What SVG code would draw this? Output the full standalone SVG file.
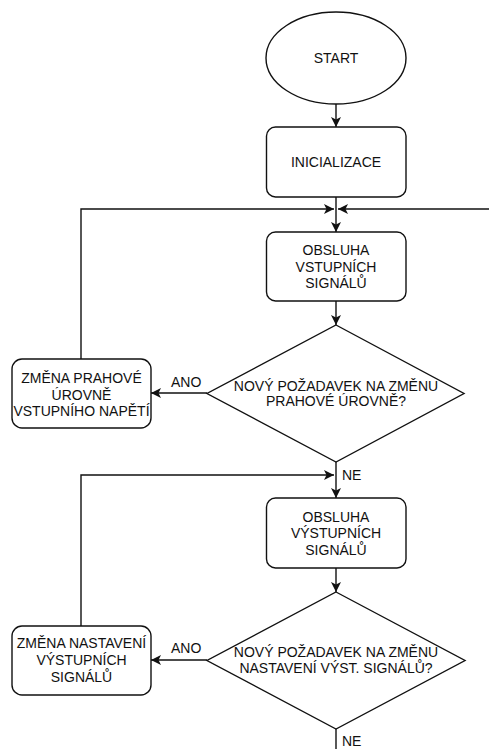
<svg xmlns="http://www.w3.org/2000/svg" width="489" height="749" viewBox="0 0 489 749">
<defs>
<style>
.s{fill:#fff;stroke:#111;stroke-width:1.4}
.c{fill:none;stroke:#111;stroke-width:1.4}
text{font-family:"Liberation Sans",Arial,sans-serif;font-size:14px;fill:#111;text-anchor:middle}
.l{text-anchor:start}
</style>
<marker id="a" markerUnits="userSpaceOnUse" markerWidth="10" markerHeight="10" refX="8" refY="4" orient="auto" viewBox="0 0 8 8">
<path d="M0,0 L8,4 L0,8 L2,4 Z" fill="#111"/>
</marker>
</defs>
<rect width="489" height="749" fill="#fff"/>
<g id="connectors">
<path class="c" d="M336,104 V127" marker-end="url(#a)"/>
<path class="c" d="M336,197 V232" marker-end="url(#a)"/>
<path class="c" d="M81,359 V209 H334" marker-end="url(#a)"/>
<path class="c" d="M489,209 H338" marker-end="url(#a)"/>
<path class="c" d="M336,301 V325" marker-end="url(#a)"/>
<path class="c" d="M207,393 H151" marker-end="url(#a)"/>
<path class="c" d="M336,462 V498" marker-end="url(#a)"/>
<path class="c" d="M81,626 V475 H334" marker-end="url(#a)"/>
<path class="c" d="M336,568 V592" marker-end="url(#a)"/>
<path class="c" d="M207,660 H151" marker-end="url(#a)"/>
<path class="c" d="M336,729 V749"/>
<text class="l" x="171" y="387">ANO</text>
<text class="l" x="342" y="480">NE</text>
<text class="l" x="171" y="653">ANO</text>
<text class="l" x="342" y="746">NE</text>
</g>
<g id="start">
<ellipse class="s" cx="336" cy="58" rx="70" ry="46"/>
<text x="336" y="63">START</text>
</g>
<g id="init">
<rect class="s" x="266.5" y="127" width="139.5" height="70" rx="9"/>
<text x="336" y="167">INICIALIZACE</text>
</g>
<g id="obsluha-vstup">
<rect class="s" x="266.5" y="232" width="139.5" height="69" rx="9"/>
<text x="336" y="255">OBSLUHA</text>
<text x="336" y="271.5">VSTUPNÍCH</text>
<text x="336" y="288">SIGNÁLŮ</text>
</g>
<g id="dec1">
<path class="s" d="M336,325 L464,393.5 L336,462 L207,393.5 Z"/>
<text x="336" y="391">NOVÝ POŽADAVEK NA ZMĚNU</text>
<text x="336" y="406">PRAHOVÉ ÚROVNĚ?</text>
</g>
<g id="zmena-prah">
<rect class="s" x="12" y="359" width="139" height="69" rx="10"/>
<text x="81.5" y="383">ZMĚNA PRAHOVÉ</text>
<text x="81.5" y="399.5">ÚROVNĚ</text>
<text x="81.5" y="416">VSTUPNÍHO NAPĚTÍ</text>
</g>
<g id="obsluha-vystup">
<rect class="s" x="266.5" y="498" width="139.5" height="70" rx="9"/>
<text x="336" y="521.5">OBSLUHA</text>
<text x="336" y="538">VÝSTUPNÍCH</text>
<text x="336" y="554.5">SIGNÁLŮ</text>
</g>
<g id="dec2">
<path class="s" d="M336,592 L465,660.5 L336,729 L207,660.5 Z"/>
<text x="336" y="657">NOVÝ POŽADAVEK NA ZMĚNU</text>
<text x="336" y="673">NASTAVENÍ VÝST. SIGNÁLŮ?</text>
</g>
<g id="zmena-nast">
<rect class="s" x="12" y="626" width="139" height="69" rx="10"/>
<text x="81.5" y="648">ZMĚNA NASTAVENÍ</text>
<text x="81.5" y="665">VÝSTUPNÍCH</text>
<text x="81.5" y="682">SIGNÁLŮ</text>
</g>
</svg>
